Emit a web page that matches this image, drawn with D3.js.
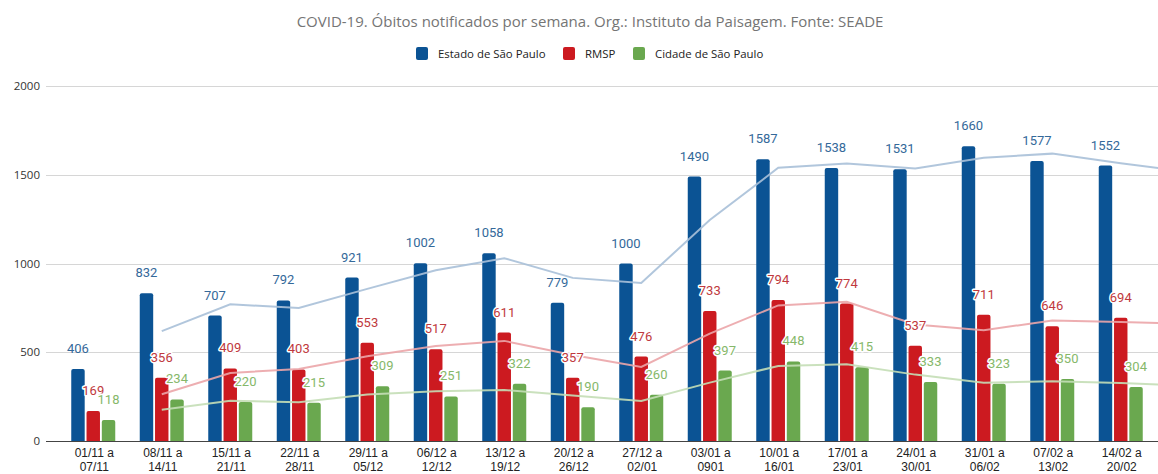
<!DOCTYPE html>
<html><head><meta charset="utf-8">
<script src="https://cdn.jsdelivr.net/npm/d3@7"></script>
<style>html,body{margin:0;padding:0;background:#fff;}svg{display:block;}</style>
</head><body>
<svg id="c" width="1158" height="474"></svg>
<script>
const title = "COVID-19. Óbitos notificados por semana. Org.: Instituto da Paisagem. Fonte: SEADE";
const categories = [
  ["01/11 a","07/11"],["08/11 a","14/11"],["15/11 a","21/11"],["22/11 a","28/11"],
  ["29/11 a","05/12"],["06/12 a","12/12"],["13/12 a","19/12"],["20/12 a","26/12"],
  ["27/12 a","02/01"],["03/01 a","0901"],["10/01 a","16/01"],["17/01 a","23/01"],
  ["24/01 a","30/01"],["31/01 a","06/02"],["07/02 a","13/02"],["14/02 a","20/02"]
];
const seriesNames = ["Estado de São Paulo","RMSP","Cidade de São Paulo"];
const estado = [406,832,707,792,921,1002,1058,779,1000,1490,1587,1538,1531,1660,1577,1552];
const rmsp   = [169,356,409,403,553,517,611,357,476,733,794,774,537,711,646,694];
const cidade = [118,234,220,215,309,251,322,190,260,397,448,415,333,323,350,304];
// trend lines, index = category position; first at position 1, last continues past the edge
const trendEstado = [null,619,770,750,857,962,1030,919,890,1245,1539,1563,1535,1596,1619,1565,1516];
const trendRmsp   = [null,263,383,406,478,535,564,484,417,605,764,784,656,624,679,670,661];
const trendCidade = [null,176,227,218,262,280,287,256,225,329,423,432,374,328,337,327,310];
const yTicks = [0,500,1000,1500,2000];

const colors = ["#0b5394","#cc1a20","#6aa84f"];
const labelColors = ["#34699a","#c0393d","#86b86a"];
const trendColors = ["#a9c0d8","#eba5a8","#c4deb6"];

const svg = d3.select("#c");
const W = 1158, H = 474;
const x0 = 59, x1 = 1155;
const catKeys = categories.map((d,i)=>i);
const x = d3.scaleBand().domain(catKeys).range([x0,x1]).padding(0);
const step = x.step();
const y = d3.scaleLinear().domain([0,2000]).range([441,86]);
const xs = d3.scaleBand().domain([0,1,2]).range([-22,22]).paddingInner(0.12);

// title
svg.append("text").attr("x",590).attr("y",27).attr("text-anchor","middle")
  .attr("font-family","Open Sans").attr("font-size",15).attr("fill","#757575").text(title);

// legend
const legendX = [416,563,633];
seriesNames.forEach((n,i)=>{
  svg.append("rect").attr("x",legendX[i]).attr("y",47).attr("width",12).attr("height",13).attr("rx",2).attr("fill",colors[i]);
  svg.append("text").attr("x",legendX[i]+22).attr("y",58).attr("font-family","Open Sans").attr("font-size",11.4)
    .attr("fill","#222").text(n);
});

// grid + y labels
const gy = svg.append("g");
yTicks.forEach(t=>{
  gy.append("line").attr("x1",46).attr("x2",W).attr("y1",Math.round(y(t))+0.5).attr("y2",Math.round(y(t))+0.5)
    .attr("stroke", t===0 ? "#444" : "#d6d6d6").attr("stroke-width",1);
  gy.append("text").attr("x",40).attr("y",y(t)+4).attr("text-anchor","end").attr("font-family","Open Sans")
    .attr("font-size",11.5).attr("fill","#333").text(t);
});

// bars
const series = [estado,rmsp,cidade];
function barPath(xl, w, yt, yb, r){
  r = Math.min(r, (yb-yt), w/2);
  return `M${xl},${yb}V${yt+r}Q${xl},${yt} ${xl+r},${yt}H${xl+w-r}Q${xl+w},${yt} ${xl+w},${yt+r}V${yb}Z`;
}
const gb = svg.append("g");
series.forEach((vals,s)=>{
  vals.forEach((v,i)=>{
    const cx = x(i)+step/2;
    const xl = cx + xs(s);
    gb.append("path").attr("d",barPath(xl, xs.bandwidth(), y(v), y(0), 2)).attr("fill",colors[s]);
  });
});

// trend lines
const trends = [trendEstado,trendRmsp,trendCidade];
const line = d3.line().defined(d=>d!=null).x((d,i)=>x0+step*i+step/2).y(d=>y(d));
trends.forEach((t,s)=>{
  svg.append("path").attr("d",line(t)).attr("fill","none").attr("stroke",trendColors[s]).attr("stroke-width",2)
    .attr("opacity",0.9);
});

// data labels
const gl = svg.append("g");
series.forEach((vals,s)=>{
  vals.forEach((v,i)=>{
    const cx = x(i)+step/2 + xs(s) + xs.bandwidth()/2;
    const t = gl.append("text").attr("x",cx).attr("y",y(v)-16).attr("text-anchor","middle")
      .attr("font-family","Roboto").attr("font-size",13).attr("fill",labelColors[s]).text(v);
    if (s>0) t.attr("stroke","#fff").attr("stroke-width",3).attr("paint-order","stroke").attr("stroke-linejoin","round");
  });
});

// x labels
const gx = svg.append("g");
categories.forEach((c,i)=>{
  const cx = x(i)+step/2+1;
  gx.append("text").attr("x",cx).attr("y",457).attr("text-anchor","middle").attr("font-family","Liberation Sans")
    .attr("font-size",12).attr("fill","#222").text(c[0]);
  gx.append("text").attr("x",cx).attr("y",471).attr("text-anchor","middle").attr("font-family","Liberation Sans")
    .attr("font-size",12).attr("fill","#222").text(c[1]);
});
</script>
</body></html>
